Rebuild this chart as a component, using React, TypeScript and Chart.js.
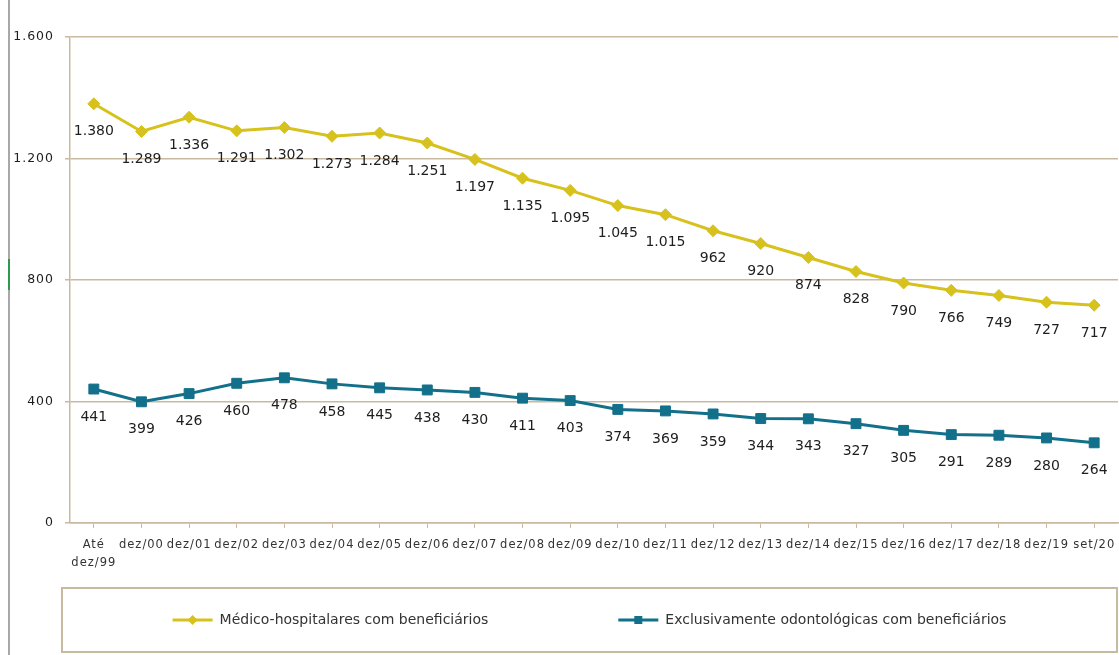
import React, { useEffect, useRef } from "react";
import { Chart, registerables } from "chart.js";

Chart.register(...registerables);

// Period labels (first one wraps onto two lines)
const periods: (string | string[])[] = [
  ["Até", "dez/99"],
  "dez/00", "dez/01", "dez/02", "dez/03", "dez/04", "dez/05", "dez/06",
  "dez/07", "dez/08", "dez/09", "dez/10", "dez/11", "dez/12", "dez/13",
  "dez/14", "dez/15", "dez/16", "dez/17", "dez/18", "dez/19", "set/20",
];

const medicoHospitalares = [
  1380, 1289, 1336, 1291, 1302, 1273, 1284, 1251, 1197, 1135, 1095,
  1045, 1015, 962, 920, 874, 828, 790, 766, 749, 727, 717,
];

const odontologicas = [
  441, 399, 426, 460, 478, 458, 445, 438, 430, 411, 403,
  374, 369, 359, 344, 343, 327, 305, 291, 289, 280, 264,
];

const seriesNames = [
  "Médico-hospitalares com beneficiários",
  "Exclusivamente odontológicas com beneficiários",
];

const yTicks = { min: 0, max: 1600, step: 400 };

const YELLOW = "#d7c11c";
const TEAL = "#13708a";
const TAN = "#c9b9a0";
const TEXT = "#1e1e1e";
const FONT = "'DejaVu Sans', sans-serif";

// Brazilian thousands separator: 1380 -> "1.380"
const fmt = (n: number) => String(Math.round(n)).replace(/\B(?=(\d{3})+(?!\d))/g, ".");

// Axis labels are set slightly spaced out; everything drawn later uses normal spacing
const axisLetterSpacing = {
  id: "axisLetterSpacing",
  beforeDraw(chart: any) {
    (chart.ctx as any).letterSpacing = "1px";
  },
  beforeDatasetsDraw(chart: any) {
    (chart.ctx as any).letterSpacing = "0px";
  },
};

// Value labels written under every point
const valueLabels = {
  id: "valueLabels",
  afterDatasetsDraw(chart: any) {
    const ctx = chart.ctx as CanvasRenderingContext2D;
    ctx.save();
    (ctx as any).letterSpacing = "0px";
    ctx.font = `14px ${FONT}`;
    ctx.fillStyle = TEXT;
    ctx.textAlign = "center";
    ctx.textBaseline = "middle";
    chart.data.datasets.forEach((ds: any, di: number) => {
      const meta = chart.getDatasetMeta(di);
      meta.data.forEach((pt: any, i: number) => {
        ctx.fillText(fmt(ds.data[i]), pt.x, pt.y + 28);
      });
    });
    ctx.restore();
  },
};

// Framed legend below the axis: line + marker, then the series name
const framedLegend = {
  id: "framedLegend",
  afterDraw(chart: any) {
    const ctx = chart.ctx as CanvasRenderingContext2D;
    const area = chart.chartArea;
    const left = area.left - 8;
    const right = area.right - 1;
    const top = area.bottom + 65;
    const bottom = chart.height - 3;
    ctx.save();
    (ctx as any).letterSpacing = "0px";
    ctx.strokeStyle = TAN;
    ctx.lineWidth = 2;
    ctx.strokeRect(left, top, right - left, bottom - top);

    ctx.font = `14px ${FONT}`;
    const iconW = 40;
    const iconGap = 7;
    const itemGap = 130;
    const items = chart.data.datasets.map((ds: any) => ({
      ds,
      w: iconW + iconGap + ctx.measureText(ds.label).width,
    }));
    const total = items.reduce((s: number, it: any) => s + it.w, 0) + itemGap * (items.length - 1);
    let x = (left + right) / 2 - total / 2;
    const cy = (top + bottom) / 2;
    items.forEach((it: any) => {
      const ds = it.ds;
      ctx.strokeStyle = ds.borderColor;
      ctx.lineWidth = 3;
      ctx.beginPath();
      ctx.moveTo(x, cy);
      ctx.lineTo(x + iconW, cy);
      ctx.stroke();
      const mx = x + iconW / 2;
      ctx.fillStyle = ds.pointBackgroundColor;
      ctx.beginPath();
      if (ds.pointStyle === "rectRot") {
        const r = 5;
        ctx.moveTo(mx, cy - r);
        ctx.lineTo(mx + r, cy);
        ctx.lineTo(mx, cy + r);
        ctx.lineTo(mx - r, cy);
        ctx.closePath();
      } else {
        ctx.rect(mx - 4, cy - 4, 8, 8);
      }
      ctx.fill();
      ctx.fillStyle = "#333";
      ctx.textAlign = "left";
      ctx.textBaseline = "middle";
      ctx.fillText(ds.label, x + iconW + iconGap, cy);
      x += it.w + itemGap;
    });
    ctx.restore();
  },
};

export default function App() {
  const canvasRef = useRef<HTMLCanvasElement | null>(null);

  useEffect(() => {
    if (!canvasRef.current) return;
    const chart = new Chart(canvasRef.current, {
      type: "line",
      data: {
        labels: periods,
        datasets: [
          {
            label: seriesNames[0],
            data: medicoHospitalares,
            borderColor: YELLOW,
            backgroundColor: YELLOW,
            pointBackgroundColor: YELLOW,
            pointBorderColor: YELLOW,
            pointStyle: "rectRot",
            pointRadius: 6,
            pointBorderWidth: 1,
            borderWidth: 3,
            tension: 0,
          },
          {
            label: seriesNames[1],
            data: odontologicas,
            borderColor: TEAL,
            backgroundColor: TEAL,
            pointBackgroundColor: TEAL,
            pointBorderColor: TEAL,
            pointStyle: "rect",
            pointRadius: 7,
            pointBorderWidth: 1,
            borderWidth: 3,
            tension: 0,
          },
        ],
      },
      options: {
        animation: false,
        responsive: false,
        devicePixelRatio: 1,
        layout: { autoPadding: false, padding: { top: 37, right: 1, left: 0, bottom: 82 } },
        plugins: {
          legend: { display: false },
          tooltip: { enabled: false },
        },
        scales: {
          x: {
            offset: true,
            afterFit: (s: any) => {
              s.height = 50;
              s.paddingLeft = 0;
              s.paddingRight = 0;
            },
            grid: {
              display: true,
              drawOnChartArea: false,
              drawTicks: true,
              tickLength: 5,
              color: TAN,
              offset: false,
            },
            border: { color: TAN, width: 1.5 },
            ticks: {
              autoSkip: false,
              maxRotation: 0,
              minRotation: 0,
              padding: 8,
              color: "#333",
              font: { family: FONT, size: 11.5, lineHeight: 1.55 },
            },
          },
          y: {
            min: yTicks.min,
            max: yTicks.max,
            afterFit: (s: any) => { s.width = 70; },
            grid: { color: TAN, lineWidth: 1.5, tickLength: 5, drawTicks: true },
            border: { color: TAN, width: 1.5 },
            ticks: {
              stepSize: yTicks.step,
              padding: 11,
              color: TEXT,
              font: { family: FONT, size: 12.5 },
              callback: (v: any) => fmt(Number(v)),
            },
          },
        },
      },
      plugins: [axisLetterSpacing, valueLabels, framedLegend],
    });
    return () => chart.destroy();
  }, []);

  return (
    <div style={{ position: "fixed", left: 0, top: 0, width: 1119, height: 655, background: "#fff" }}>
      <div style={{ position: "absolute", left: 8, top: 0, width: 2, height: 655, background: "#a8a8a8" }} />
      <div style={{ position: "absolute", left: 8, top: 259, width: 2, height: 31, background: "#2f9a4f" }} />
      <canvas ref={canvasRef} width={1119} height={655} style={{ position: "absolute", left: 0, top: 0 }} />
    </div>
  );
}
